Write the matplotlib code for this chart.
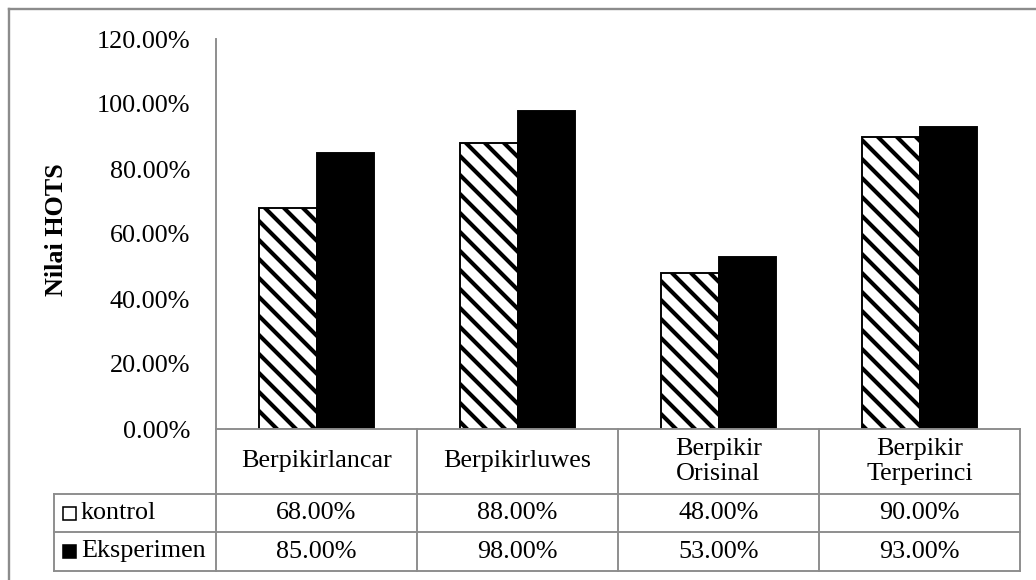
import matplotlib
matplotlib.use("Agg")
import matplotlib.pyplot as plt
from matplotlib.lines import Line2D
from matplotlib.patches import Rectangle
from matplotlib.ticker import FuncFormatter

categories = ["Berpikirlancar", "Berpikirluwes", "Berpikir\nOrisinal", "Berpikir\nTerperinci"]
series_names = ["kontrol", "Eksperimen"]
kontrol = [68, 88, 48, 90]
eksperimen = [85, 98, 53, 93]
y_ticks = [0, 20, 40, 60, 80, 100, 120]

DPI = 114
W, H = 1036, 580
plt.rcParams["font.family"] = ["Liberation Serif", "DejaVu Serif"]
plt.rcParams["hatch.linewidth"] = 2.6
FS = 16.5
GRAY = "#8c8c8c"

fig = plt.figure(figsize=(W / DPI, H / DPI), dpi=DPI)

# plot area in pixels: x 216..1020, y 39..429
ax = fig.add_axes([216 / W, 1 - 429 / H, 804 / W, 390 / H])
x = list(range(len(categories)))
bw = 0.286
ax.bar([i - bw / 2 for i in x], kontrol, bw, color="white", edgecolor="black",
       hatch="\\\\", linewidth=1.2, zorder=2)
ax.bar([i + bw / 2 for i in x], eksperimen, bw, color="black", edgecolor="black",
       linewidth=1.2, zorder=2)

ax.set_xlim(-0.5, len(categories) - 0.5)
ax.set_ylim(0, 120)
ax.set_yticks(y_ticks)
ax.yaxis.set_major_formatter(FuncFormatter(lambda v, p: f"{v:.2f}%"))
ax.tick_params(axis="y", length=0, pad=16.4, labelsize=FS)
ax.set_xticks([])
for s in ["top", "right", "bottom"]:
    ax.spines[s].set_visible(False)
ax.spines["left"].set_color(GRAY)
ax.spines["left"].set_linewidth(1.2)
ax.set_ylabel("Nilai HOTS", fontsize=FS, fontweight="bold")
ax.yaxis.set_label_coords((68 - 216) / 804, 0.51)

# data table under the axis
ph = 390.0
r0, r1, r2, r3 = 0, -65 / ph, -103 / ph, -142 / ph
lx = (54 - 216) / 804
tr = ax.get_xaxis_transform()
tra = ax.transAxes
kw = dict(color=GRAY, linewidth=1.2, clip_on=False)
ax.add_line(Line2D([-0.5, len(categories) - 0.5], [r0, r0], transform=tr, **kw))
for yy in [r1, r2, r3]:
    ax.add_line(Line2D([lx, 1], [yy, yy], transform=tra, **kw))
for i in range(len(categories) + 1):
    ax.add_line(Line2D([i - 0.5, i - 0.5], [r0, r3], transform=tr, **kw))
ax.add_line(Line2D([lx, lx], [r1, r3], transform=tra, **kw))

for i, c in enumerate(categories):
    ax.text(i, (r0 + r1) / 2, c, transform=tr, ha="center", va="center",
            fontsize=FS, linespacing=1.15)
    ax.text(i, (r1 + r2) / 2, f"{kontrol[i]:.2f}%", transform=tr, ha="center",
            va="center", fontsize=FS)
    ax.text(i, (r2 + r3) / 2, f"{eksperimen[i]:.2f}%", transform=tr, ha="center",
            va="center", fontsize=FS)

sq = 13 / 804
sqh = 13 / ph
for (ya, yb), name, fc in [((r1, r2), series_names[0], "white"),
                           ((r2, r3), series_names[1], "black")]:
    yc = (ya + yb) / 2
    ax.add_patch(Rectangle(((63 - 216) / 804, yc - sqh / 2), sq, sqh, transform=tra,
                           facecolor=fc, edgecolor="black", linewidth=1.0, clip_on=False))
    ax.text((81 - 216) / 804, yc, name, transform=tra, ha="left", va="center",
            fontsize=FS)

# outer chart border (right and bottom fall outside the image)
fig.add_artist(Line2D([9 / W, 9 / W], [0, 1 - 9 / H], color=GRAY, linewidth=1.5))
fig.add_artist(Line2D([9 / W, 1], [1 - 9 / H, 1 - 9 / H], color=GRAY, linewidth=1.5))

fig.savefig("out.png", dpi=DPI)
